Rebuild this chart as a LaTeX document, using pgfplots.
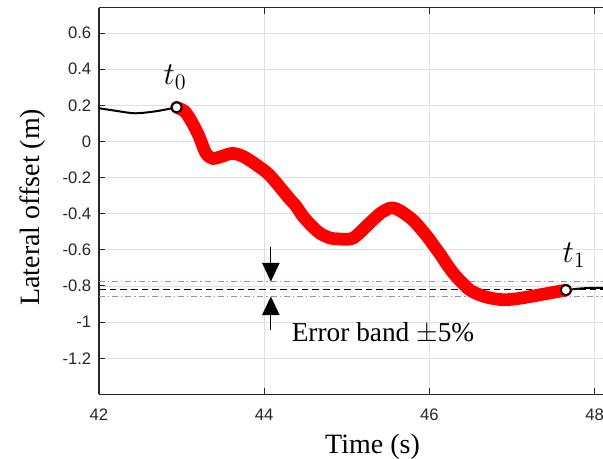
\documentclass[border=0pt]{standalone}
\usepackage{fontspec}
\usepackage{graphicx}
\setmainfont{Liberation Serif}
\newfontfamily\arial{Liberation Sans}
\usepackage{pgfplots}
\pgfplotsset{compat=1.18}
\usetikzlibrary{arrows.meta}
\definecolor{tickgray}{RGB}{38,38,38}
\definecolor{bandpurple}{RGB}{175,130,190}
\definecolor{gridgray}{RGB}{223,223,223}

\pgfplotstableread{
x y
42.00 0.184
42.20 0.170
42.44 0.156
42.70 0.168
42.94 0.189
}\pre
\pgfplotstableread{
x y
42.94 0.189
43.04 0.165
43.12 0.110
43.21 0.030
43.29 -0.062
43.37 -0.094
43.47 -0.085
43.61 -0.066
43.72 -0.078
43.82 -0.103
44.02 -0.168
44.12 -0.215
44.22 -0.270
44.31 -0.320
44.38 -0.355
44.47 -0.415
44.58 -0.470
44.68 -0.510
44.80 -0.535
44.88 -0.539
45.00 -0.542
45.08 -0.534
45.18 -0.495
45.28 -0.450
45.40 -0.400
45.50 -0.373
45.56 -0.368
45.65 -0.385
45.81 -0.440
45.97 -0.525
46.05 -0.575
46.13 -0.625
46.21 -0.680
46.29 -0.730
46.40 -0.785
46.49 -0.823
46.60 -0.848
46.69 -0.862
46.80 -0.872
46.89 -0.876
47.00 -0.874
47.18 -0.862
47.42 -0.842
47.65 -0.823
}\red
\pgfplotstableread{
x y
47.65 -0.823
47.80 -0.815
47.95 -0.811
48.10 -0.810
}\post

\begin{document}
\begin{tikzpicture}
\begin{axis}[name=ax, scale only axis, width=378pt, height=289.9pt,
  xmin=42, xmax=48.1, ymin=-1.4, ymax=0.74,
  axis x line*=box, axis y line*=left,
  every outer x axis line/.append style={-},
  every inner x axis line/.append style={-},
  every outer y axis line/.append style={-},
  every inner y axis line/.append style={-},
  axis line style={tickgray, line width=0.9pt},
  xtick={42,44,46,48}, xticklabels={42,44,46,48},
  ytick={-1.2,-1,-0.8,-0.6,-0.4,-0.2,0,0.2,0.4,0.6},
  yticklabels={-1.2,-1,-0.8,-0.6,-0.4,-0.2,0,0.2,0.4,0.6},
  tick align=inside, major tick length=4.7pt,
  tick style={tickgray, line width=0.8pt},
  grid=major, major grid style={gridgray, line width=0.6pt},
  ticklabel style={font=\arial\fontsize{12.5}{13}\selectfont, text=tickgray},
  xticklabel style={yshift=-7.5pt},
  yticklabel style={xshift=-2.3pt},
  xlabel={Time (s)}, ylabel={Lateral offset (m)},
  every axis x label/.style={at={(axis description cs:0.5427,0)}, anchor=base, yshift=-44.5pt, font=\fontsize{21}{24}\selectfont},
  every axis y label/.style={at={(axis description cs:-0.1177,0.484)}, anchor=base, rotate=90, font=\fontsize{21}{24}\selectfont},
]
\addplot[bandpurple, line width=0.8pt, dash pattern=on 4.5pt off 2.2pt on 1pt off 2.2pt] coordinates {(42,-0.776) (48.1,-0.776)};
\addplot[bandpurple, line width=0.8pt, dash pattern=on 4.5pt off 2.2pt on 1pt off 2.2pt] coordinates {(42,-0.858) (48.1,-0.858)};
\addplot[black, line width=0.7pt, dash pattern=on 5pt off 3pt] coordinates {(42,-0.817) (48.1,-0.817)};
\addplot[black, line width=1.5pt, smooth] table[x=x,y=y] {\pre};
\addplot[black, line width=1.5pt, smooth] table[x=x,y=y] {\post};
\addplot[red, line width=9.5pt, smooth, line cap=round, line join=round] table[x=x,y=y] {\red};
\addplot[black, line width=0.9pt, -{Triangle[length=14pt,width=13pt]}] coordinates {(44.08,-0.585) (44.08,-0.776)};
\addplot[black, line width=0.9pt, -{Triangle[length=14pt,width=13pt]}] coordinates {(44.08,-1.043) (44.08,-0.858)};
\addplot[only marks, mark=*, mark size=3.8pt, mark options={fill=white, draw=black, line width=1.4pt}] coordinates {(42.94,0.189) (47.65,-0.823)};
\node at (axis cs:42.92,0.357) {\scalebox{1.15}{\fontsize{20.74}{24}\selectfont$t_0$}};
\node at (axis cs:47.75,-0.628) {\scalebox{1.15}{\fontsize{20.74}{24}\selectfont$t_1$}};
\node[anchor=base west, inner sep=0pt] at (axis cs:44.33,-1.109) {\fontsize{20.5}{22}\selectfont Error band $\pm$5\%};
\end{axis}
\pgfresetboundingbox
\path[use as bounding box] (ax.south west) ++(-74.25pt,-48.5pt) rectangle ++(452.25pt,344.25pt);
\end{tikzpicture}
\end{document}
